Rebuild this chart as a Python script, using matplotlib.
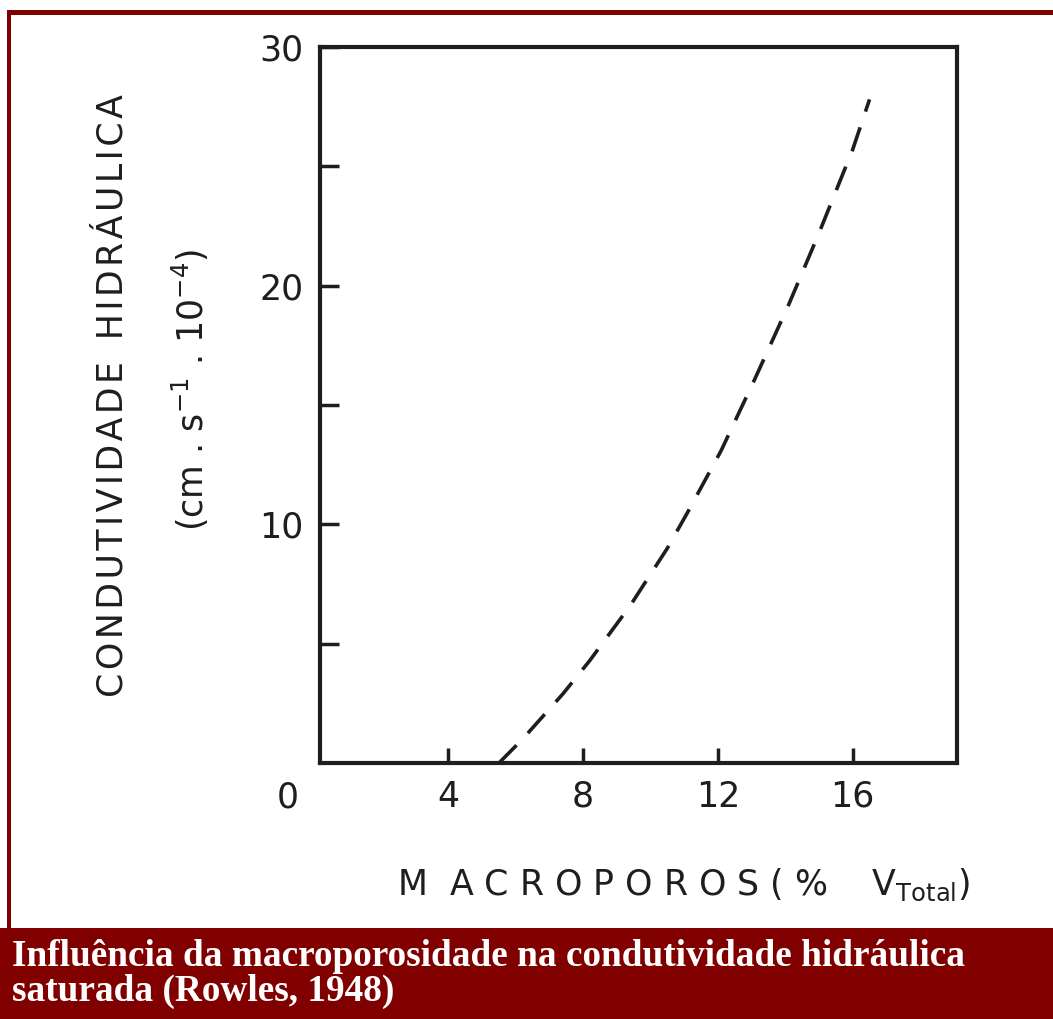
import matplotlib
matplotlib.use('Agg')
import matplotlib.pyplot as plt
from matplotlib.patches import Rectangle

# curve (Rowles, 1948)
macroporos = [5.5, 6.2, 7.4, 8.2, 9.4, 10.5, 11.1, 12.1, 13.1, 14.1, 15.0, 16.0, 16.5]
condutividade = [0.0, 1.0, 2.9, 4.3, 6.6, 9.0, 10.5, 13.1, 16.1, 19.2, 22.2, 25.7, 27.8]

x_ticks = [4, 8, 12, 16]
y_ticks = [10, 20, 30]
y_minor = [5, 15, 25]

caption = ("Influência da macroporosidade na condutividade hidráulica\n"
           "saturada (Rowles, 1948)")

ink = '#1e1e1e'
dark_red = '#800000'

fig = plt.figure(figsize=(10.53, 10.19), dpi=100)
fig.patch.set_facecolor('white')

# page frame: top and left rules, caption band at the bottom
fig.add_artist(Rectangle((0.0066, 0.9853), 0.9934, 0.0049, transform=fig.transFigure,
                         facecolor=dark_red, edgecolor='none'))
fig.add_artist(Rectangle((0.0066, 0.0), 0.0040, 0.99, transform=fig.transFigure,
                         facecolor=dark_red, edgecolor='none'))
fig.add_artist(Rectangle((0.0, 0.0), 1.0, 0.0893, transform=fig.transFigure,
                         facecolor=dark_red, edgecolor='none'))
fig.text(0.011, 0.044, caption, color='white', fontsize=26.8, fontweight='bold',
         family='Liberation Serif', va='center', ha='left', linespacing=1.0)

ax = fig.add_axes([0.304, 0.251, 0.605, 0.703])
ax.plot(macroporos, condutividade, color=ink, lw=2.6, ls=(0, (7, 4.6)),
        dash_capstyle='butt')

ax.set_xlim(0.2, 19.1)
ax.set_ylim(0, 30)
ax.set_xticks(x_ticks)
ax.set_yticks(y_ticks)
ax.set_yticks(y_minor, minor=True)
ax.tick_params(axis='both', which='both', direction='in', width=2.5, colors=ink,
               labelsize=25, pad=12)
ax.tick_params(axis='x', length=11)
ax.tick_params(axis='y', which='both', length=14)
for s in ax.spines.values():
    s.set_linewidth(3)
    s.set_color(ink)

# the lone "0" below the corner
ax.text(-0.75, -1.45, '0', fontsize=25, color=ink, ha='center', va='center')

ax.set_xlabel(r'M  A C R O P O R O S ( %    V$_{\mathregular{Total}}$)', fontsize=25,
              color=ink, labelpad=38, x=0.57)

hair = '\u200a'
ylab = '  '.join(hair.join(w) for w in ['CONDUTIVIDADE', 'HIDRÁULICA'])
fig.text(0.107, 0.612, ylab, rotation=90, fontsize=25, color=ink,
         ha='center', va='center')
fig.text(0.181, 0.617, r'(cm . s$^{\mathregular{-1}}$ . 10$^{\mathregular{-4}}$)',
         rotation=90, fontsize=25, color=ink, ha='center', va='center')

fig.savefig('out.png', dpi=100, facecolor='white')
